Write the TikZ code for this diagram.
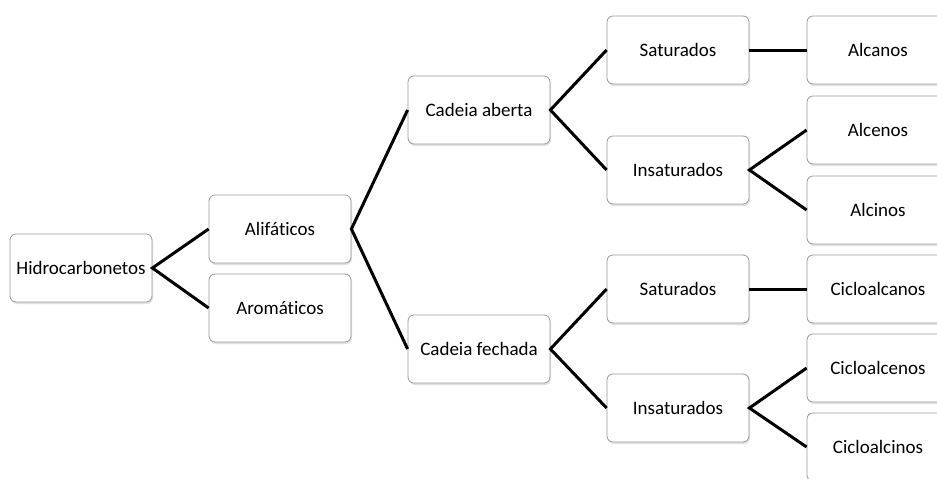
\documentclass[tikz,border=0pt]{standalone}
\usepackage{fontspec}
\setmainfont{Carlito}[Ligatures=CommonOff]
\usepackage{tikz}
\usetikzlibrary{shapes.misc}
\usetikzlibrary{shadows}

\begin{document}
\begin{tikzpicture}[x = 1pt, y = -1pt,
  box/.style = {draw = gray!80, line width = .8pt, fill = white, rounded corners = 6pt,
    minimum width = 142pt, minimum height = 68pt, inner sep = 0,
    font = \fontsize{19}{22}\selectfont,
    drop shadow = {shadow xshift = 1pt, shadow yshift = -2pt, fill = gray!45}},
  link/.style = {line width = 3pt, black}]
 \useasboundingbox (0, 0) rectangle (937, 479);
  \node [box] (hidro) at (81, 268) {Hidrocarbonetos};
  \node [box] (alif) at (280, 229) {Alifáticos};
  \node [box] (arom) at (280, 308) {Aromáticos};
  \node [box] (aberta) at (479, 110) {Cadeia aberta};
  \node [box] (fechada) at (479, 349) {Cadeia fechada};
  \node [box] (satA) at (678, 50) {Saturados};
  \node [box] (insatA) at (678, 170) {Insaturados};
  \node [box] (satF) at (678, 289) {Saturados};
  \node [box] (insatF) at (678, 408) {Insaturados};
  \node [box] (alcanos) at (878, 50) {Alcanos};
  \node [box] (alcenos) at (878, 130) {Alcenos};
  \node [box] (alcinos) at (878, 210) {Alcinos};
  \node [box] (cicloalcanos) at (878, 289) {Cicloalcanos};
  \node [box] (cicloalcenos) at (878, 368) {Cicloalcenos};
  \node [box] (cicloalcinos) at (878, 447) {Cicloalcinos};
  \draw [link] (alif.west) -- (hidro.east) -- (arom.west);
  \draw [link] (aberta.west) -- (alif.east) -- (fechada.west);
  \draw [link] (satA.west) -- (aberta.east) -- (insatA.west);
  \draw [link] (satF.west) -- (fechada.east) -- (insatF.west);
  \draw [link] (satA.east) -- (alcanos.west);
  \draw [link] (alcenos.west) -- (insatA.east) -- (alcinos.west);
  \draw [link] (satF.east) -- (cicloalcanos.west);
  \draw [link] (cicloalcenos.west) -- (insatF.east) -- (cicloalcinos.west);
 \end{tikzpicture}
\end{document}
